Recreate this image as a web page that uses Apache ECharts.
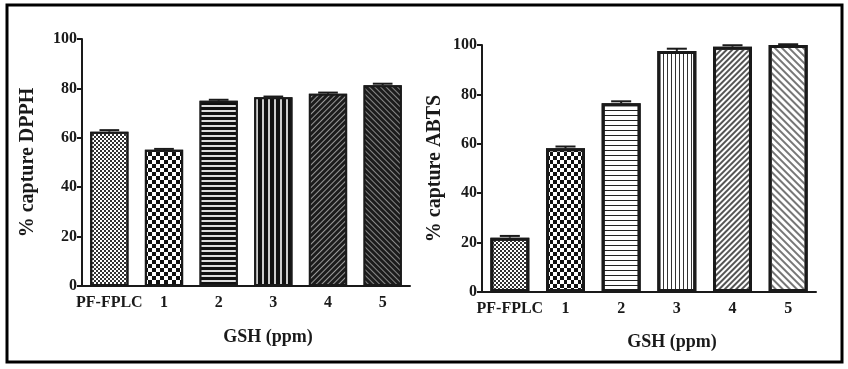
<!DOCTYPE html>
<html>
<head>
<meta charset="utf-8">
<script src="https://cdn.jsdelivr.net/npm/echarts@6/dist/echarts.min.js"></script>
<style>
  html, body { margin: 0; padding: 0; background: #fff; }
  #chart { width: 848px; height: 369px; }
</style>
</head>
<body>
<div id="chart"></div>
<script>
// data
const categories = ["PF-FPLC", "1", "2", "3", "4", "5"];
const dpphValues = [62.5, 55.2, 75, 76.4, 77.8, 81.3];
const dpphErrors = [0.6, 0.3, 0.4, 0.3, 0.5, 0.6];
const abtsValues = [22, 58.2, 76.4, 97.6, 99.3, 100];
const abtsErrors = [0.7, 0.7, 0.8, 0.9, 0.6, 0.3];
const yTicks = [0, 20, 40, 60, 80, 100];

const FONT = "Liberation Serif";
const INK = "#1a1a1a";

// fill patterns, one per bar
const leftPatterns = [
  { fill: "#fff", decal: { symbol: "rect", symbolSize: 1, color: "#333", dashArrayX: [[2, 2], [0, 2, 2, 0]], dashArrayY: [2, 0] } },
  { fill: "#fff", decal: { symbol: "rect", symbolSize: 1, color: "#111", dashArrayX: [[4, 4], [0, 4, 4, 0]], dashArrayY: [4, 0] } },
  { fill: "#111", decal: { symbol: "rect", symbolSize: 1, color: "#ddd", dashArrayX: [1, 0], dashArrayY: [1.3, 3], rotation: 0 } },
  { fill: "#111", decal: { symbol: "rect", symbolSize: 1, color: "#ccc", dashArrayX: [1, 0], dashArrayY: [1.2, 3.8], rotation: Math.PI / 2 } },
  { fill: "#1c1c1c", decal: { symbol: "rect", symbolSize: 1, color: "#999", dashArrayX: [1, 0], dashArrayY: [1, 2.5], rotation: -Math.PI / 4 } },
  { fill: "#1c1c1c", decal: { symbol: "rect", symbolSize: 1, color: "#888", dashArrayX: [1, 0], dashArrayY: [1, 2.7], rotation: Math.PI / 4 } }
];
const rightPatterns = [
  { fill: "#fff", decal: { symbol: "rect", symbolSize: 1, color: "#333", dashArrayX: [[2, 2], [0, 2, 2, 0]], dashArrayY: [2, 0] } },
  { fill: "#fff", decal: { symbol: "rect", symbolSize: 1, color: "#111", dashArrayX: [[4, 3], [0, 4, 3, 0]], dashArrayY: [3.5, 0] } },
  { fill: "#fff", decal: { symbol: "rect", symbolSize: 1, color: "#222", dashArrayX: [1, 0], dashArrayY: [1, 3.3], rotation: 0 } },
  { fill: "#fff", decal: { symbol: "rect", symbolSize: 1, color: "#333", dashArrayX: [1, 0], dashArrayY: [1, 3], rotation: Math.PI / 2 } },
  { fill: "#fff", decal: { symbol: "rect", symbolSize: 1, color: "#555", dashArrayX: [1, 0], dashArrayY: [1.4, 2], rotation: -Math.PI / 4 } },
  { fill: "#fff", decal: { symbol: "rect", symbolSize: 1, color: "#777", dashArrayX: [1, 0], dashArrayY: [1.2, 2.3], rotation: Math.PI / 4 } }
];

const chart = echarts.init(document.getElementById("chart"), null, { renderer: "canvas" });

function barData(values, patterns, border) {
  return values.map((v, i) => ({
    value: v,
    itemStyle: {
      color: patterns[i].fill,
      borderColor: INK,
      borderWidth: border,
      decal: patterns[i].decal
    }
  }));
}

// upward error whisker with a cap
function errorItem(params, api) {
  const xVal = api.value(0);
  const top = api.coord([xVal, api.value(1) + api.value(2)]);
  const base = api.coord([xVal, api.value(1)]);
  const half = api.size([1, 0])[0] * 0.18;
  return {
    type: "group",
    children: [
      { type: "line", shape: { x1: top[0], y1: base[1], x2: top[0], y2: top[1] }, style: { stroke: INK, lineWidth: 2 } },
      { type: "line", shape: { x1: top[0] - half, y1: top[1], x2: top[0] + half, y2: top[1] }, style: { stroke: INK, lineWidth: 2 } }
    ]
  };
}

function xAxis(gridIndex, pad, gap) {
  return {
    type: "category",
    gridIndex: gridIndex,
    data: categories,
    name: "GSH (ppm)",
    nameLocation: "middle",
    nameGap: gap,
    nameTextStyle: { fontFamily: FONT, fontWeight: "bold", fontSize: 18, color: INK, padding: [0, 0, 0, pad] },
    axisLine: { lineStyle: { color: INK, width: 2 } },
    axisTick: { alignWithLabel: true, length: 5, lineStyle: { color: INK, width: 2 } },
    axisLabel: { fontFamily: FONT, fontWeight: "bold", fontSize: 16, color: INK, margin: 9, interval: 0 }
  };
}

function yAxis(gridIndex, name, gap) {
  return {
    type: "value",
    gridIndex: gridIndex,
    min: 0,
    max: 100,
    interval: 20,
    name: name,
    nameLocation: "middle",
    nameGap: gap,
    nameTextStyle: { fontFamily: FONT, fontWeight: "bold", fontSize: 20, color: INK },
    axisLine: { show: true, lineStyle: { color: INK, width: 2 } },
    axisTick: { show: true, length: 5, lineStyle: { color: INK, width: 2 } },
    axisLabel: { fontFamily: FONT, fontWeight: "bold", fontSize: 16, color: INK, margin: 5,
      formatter: v => (yTicks.indexOf(v) >= 0 ? String(v) : "") },
    splitLine: { show: false }
  };
}

const option = {
  animation: false,
  backgroundColor: "#fff",
  grid: [
    { left: 82, top: 39, width: 328, height: 247 },
    { left: 482, top: 45, width: 334, height: 247 }
  ],
  xAxis: [xAxis(0, 44, 42), xAxis(1, 46, 41)],
  yAxis: [yAxis(0, "% capture DPPH", 44), yAxis(1, "% capture ABTS", 37)],
  series: [
    { type: "bar", xAxisIndex: 0, yAxisIndex: 0, barWidth: "70%", data: barData(dpphValues, leftPatterns, 2) },
    { type: "bar", xAxisIndex: 1, yAxisIndex: 1, barWidth: "70%", data: barData(abtsValues, rightPatterns, 3) },
    { type: "custom", xAxisIndex: 0, yAxisIndex: 0, renderItem: errorItem, z: 5,
      data: dpphValues.map((v, i) => [i, v, dpphErrors[i]]) },
    { type: "custom", xAxisIndex: 1, yAxisIndex: 1, renderItem: errorItem, z: 5,
      data: abtsValues.map((v, i) => [i, v, abtsErrors[i]]) }
  ],
  graphic: [
    { type: "rect", shape: { x: 7, y: 5, width: 835, height: 357 }, style: { fill: null, stroke: "#000", lineWidth: 3 } }
  ]
};

chart.setOption(option);
</script>
</body>
</html>
